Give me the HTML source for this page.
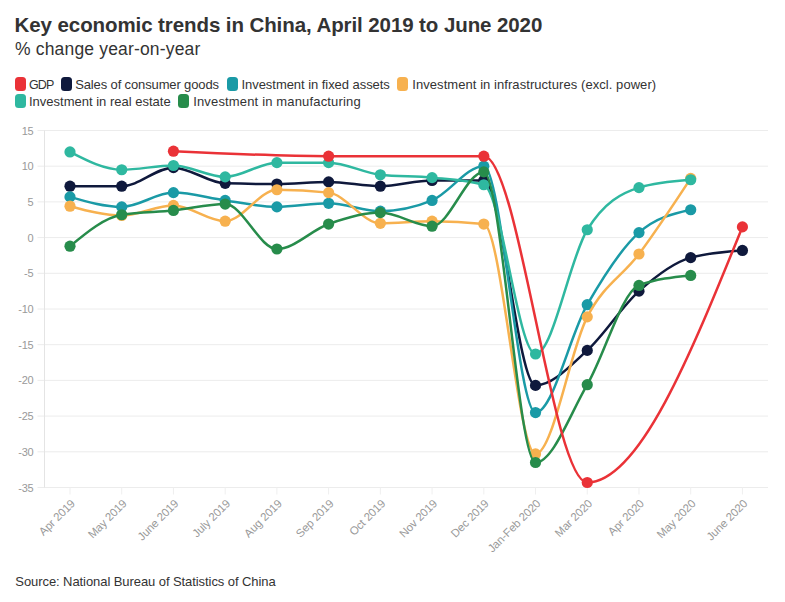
<!DOCTYPE html>
<html lang="en">
<head>
<meta charset="utf-8">
<title>Key economic trends in China</title>
<style>
html,body{margin:0;padding:0;background:#fff;}
body{width:785px;height:602px;position:relative;overflow:hidden;font-family:"Liberation Sans",sans-serif;color:#333;}
.abs{position:absolute;white-space:nowrap;line-height:1;}
h1{margin:0;font-weight:700;color:#333333;font-size:20.5px;left:14.6px;top:14.9px;letter-spacing:-0.09px;}
.sub{font-size:17.5px;left:15px;top:40.7px;letter-spacing:0.17px;color:#333333;}
.sw{position:absolute;width:10.6px;height:13.8px;border-radius:3.5px;}
.lt{position:absolute;white-space:nowrap;line-height:1;font-size:13px;color:#333333;}
.src{font-size:13px;left:15.3px;top:574.8px;letter-spacing:-0.075px;color:#333333;}
svg.chart{position:absolute;left:0;top:0;}
svg text{font-family:"Liberation Sans",sans-serif;}
.yl{font-size:11px;fill:#999999;letter-spacing:-0.3px;}
.xl{font-size:11.4px;fill:#999999;letter-spacing:-0.1px;}
</style>
</head>
<body>
<h1 class="abs">Key economic trends in China, April 2019 to June 2020</h1>
<div class="abs sub">% change year-on-year</div>
<div class="legend">
<span class="sw" style="left:15px;top:77.2px;background:#ea3237"></span>
<span class="lt" style="left:29.0px;top:78.9px;letter-spacing:-0.9px;font-size:12.5px">GDP</span>
<span class="sw" style="left:61px;top:77.2px;background:#0f193c"></span>
<span class="lt" style="left:75.2px;top:78px;letter-spacing:-0.13px;font-size:13px">Sales of consumer goods</span>
<span class="sw" style="left:227px;top:77.2px;background:#1a9aa6"></span>
<span class="lt" style="left:241.5px;top:78px;letter-spacing:-0.05px;font-size:13px">Investment in fixed assets</span>
<span class="sw" style="left:397px;top:77.2px;background:#f7b14f"></span>
<span class="lt" style="left:412.3px;top:78px;letter-spacing:0.06px;font-size:13px">Investment in infrastructures (excl. power)</span>
<span class="sw" style="left:15px;top:94.2px;background:#2fb8a0"></span>
<span class="lt" style="left:29.0px;top:94.8px;letter-spacing:0.0px;font-size:13px">Investment in real estate</span>
<span class="sw" style="left:178.3px;top:94.2px;background:#278c4b"></span>
<span class="lt" style="left:193.2px;top:94.8px;letter-spacing:0.16px;font-size:13px">Investment in manufacturing</span>
</div>
<svg class="chart" width="785" height="602" viewBox="0 0 785 602">
<line x1="37.5" x2="768.0" y1="130.50" y2="130.50" stroke="#ececec" stroke-width="1"/>
<text x="33.3" y="134.50" text-anchor="end" class="yl">15</text>
<line x1="37.5" x2="768.0" y1="166.20" y2="166.20" stroke="#ececec" stroke-width="1"/>
<text x="33.3" y="170.20" text-anchor="end" class="yl">10</text>
<line x1="37.5" x2="768.0" y1="201.90" y2="201.90" stroke="#ececec" stroke-width="1"/>
<text x="33.3" y="205.90" text-anchor="end" class="yl">5</text>
<line x1="37.5" x2="768.0" y1="237.60" y2="237.60" stroke="#ececec" stroke-width="1"/>
<text x="33.3" y="241.60" text-anchor="end" class="yl">0</text>
<line x1="37.5" x2="768.0" y1="273.30" y2="273.30" stroke="#ececec" stroke-width="1"/>
<text x="33.3" y="277.30" text-anchor="end" class="yl">-5</text>
<line x1="37.5" x2="768.0" y1="309.00" y2="309.00" stroke="#ececec" stroke-width="1"/>
<text x="33.3" y="313.00" text-anchor="end" class="yl">-10</text>
<line x1="37.5" x2="768.0" y1="344.70" y2="344.70" stroke="#ececec" stroke-width="1"/>
<text x="33.3" y="348.70" text-anchor="end" class="yl">-15</text>
<line x1="37.5" x2="768.0" y1="380.40" y2="380.40" stroke="#ececec" stroke-width="1"/>
<text x="33.3" y="384.40" text-anchor="end" class="yl">-20</text>
<line x1="37.5" x2="768.0" y1="416.10" y2="416.10" stroke="#ececec" stroke-width="1"/>
<text x="33.3" y="420.10" text-anchor="end" class="yl">-25</text>
<line x1="37.5" x2="768.0" y1="451.80" y2="451.80" stroke="#ececec" stroke-width="1"/>
<text x="33.3" y="455.80" text-anchor="end" class="yl">-30</text>
<line x1="37.5" x2="768.0" y1="487.50" y2="487.50" stroke="#ececec" stroke-width="1"/>
<text x="33.3" y="491.50" text-anchor="end" class="yl">-35</text>
<line x1="44.5" x2="44.5" y1="130.5" y2="487.5" stroke="#e4e4e4" stroke-width="1"/>
<line x1="70.00" x2="70.00" y1="487.5" y2="494.5" stroke="#efefef" stroke-width="1"/>
<text transform="translate(72.90,501.40) rotate(-45)" text-anchor="end" class="xl" dy="0.35em">Apr 2019</text>
<line x1="121.72" x2="121.72" y1="487.5" y2="494.5" stroke="#efefef" stroke-width="1"/>
<text transform="translate(124.62,501.40) rotate(-45)" text-anchor="end" class="xl" dy="0.35em">May 2019</text>
<line x1="173.45" x2="173.45" y1="487.5" y2="494.5" stroke="#efefef" stroke-width="1"/>
<text transform="translate(176.35,501.40) rotate(-45)" text-anchor="end" class="xl" dy="0.35em">June 2019</text>
<line x1="225.18" x2="225.18" y1="487.5" y2="494.5" stroke="#efefef" stroke-width="1"/>
<text transform="translate(228.08,501.40) rotate(-45)" text-anchor="end" class="xl" dy="0.35em">July 2019</text>
<line x1="276.90" x2="276.90" y1="487.5" y2="494.5" stroke="#efefef" stroke-width="1"/>
<text transform="translate(279.80,501.40) rotate(-45)" text-anchor="end" class="xl" dy="0.35em">Aug 2019</text>
<line x1="328.62" x2="328.62" y1="487.5" y2="494.5" stroke="#efefef" stroke-width="1"/>
<text transform="translate(331.52,501.40) rotate(-45)" text-anchor="end" class="xl" dy="0.35em">Sep 2019</text>
<line x1="380.35" x2="380.35" y1="487.5" y2="494.5" stroke="#efefef" stroke-width="1"/>
<text transform="translate(383.25,501.40) rotate(-45)" text-anchor="end" class="xl" dy="0.35em">Oct 2019</text>
<line x1="432.07" x2="432.07" y1="487.5" y2="494.5" stroke="#efefef" stroke-width="1"/>
<text transform="translate(434.97,501.40) rotate(-45)" text-anchor="end" class="xl" dy="0.35em">Nov 2019</text>
<line x1="483.80" x2="483.80" y1="487.5" y2="494.5" stroke="#efefef" stroke-width="1"/>
<text transform="translate(486.70,501.40) rotate(-45)" text-anchor="end" class="xl" dy="0.35em">Dec 2019</text>
<line x1="535.53" x2="535.53" y1="487.5" y2="494.5" stroke="#efefef" stroke-width="1"/>
<text transform="translate(538.43,501.40) rotate(-45)" text-anchor="end" class="xl" dy="0.35em">Jan-Feb 2020</text>
<line x1="587.25" x2="587.25" y1="487.5" y2="494.5" stroke="#efefef" stroke-width="1"/>
<text transform="translate(590.15,501.40) rotate(-45)" text-anchor="end" class="xl" dy="0.35em">Mar 2020</text>
<line x1="638.98" x2="638.98" y1="487.5" y2="494.5" stroke="#efefef" stroke-width="1"/>
<text transform="translate(641.88,501.40) rotate(-45)" text-anchor="end" class="xl" dy="0.35em">Apr 2020</text>
<line x1="690.70" x2="690.70" y1="487.5" y2="494.5" stroke="#efefef" stroke-width="1"/>
<text transform="translate(693.60,501.40) rotate(-45)" text-anchor="end" class="xl" dy="0.35em">May 2020</text>
<line x1="742.43" x2="742.43" y1="487.5" y2="494.5" stroke="#efefef" stroke-width="1"/>
<text transform="translate(745.33,501.40) rotate(-45)" text-anchor="end" class="xl" dy="0.35em">June 2020</text>
<g><path d="M70,186.19C87.24,186.19,104.48,186.19,121.72,186.19C138.97,186.19,156.21,167.63,173.45,167.63C190.69,167.63,207.93,182.86,225.18,183.34C242.42,183.81,259.66,184.05,276.9,184.05C294.14,184.05,311.38,181.91,328.62,181.91C345.87,181.91,363.11,186.19,380.35,186.19C397.59,186.19,414.83,180.48,432.07,180.48C449.32,180.48,466.56,180.48,483.8,180.48C501.04,180.48,518.28,385.4,535.53,385.4C552.77,385.4,570.01,366.12,587.25,350.41C604.49,334.7,621.73,306.62,638.98,291.15C656.22,275.68,673.46,262.35,690.7,257.59C707.94,252.83,725.18,251.64,742.43,250.45" fill="none" stroke="#0f193c" stroke-width="2.5" stroke-linecap="round" stroke-linejoin="round"/>
<circle cx="70.00" cy="186.19" r="5.6" fill="#0f193c"/>
<circle cx="121.72" cy="186.19" r="5.6" fill="#0f193c"/>
<circle cx="173.45" cy="167.63" r="5.6" fill="#0f193c"/>
<circle cx="225.18" cy="183.34" r="5.6" fill="#0f193c"/>
<circle cx="276.90" cy="184.05" r="5.6" fill="#0f193c"/>
<circle cx="328.62" cy="181.91" r="5.6" fill="#0f193c"/>
<circle cx="380.35" cy="186.19" r="5.6" fill="#0f193c"/>
<circle cx="432.07" cy="180.48" r="5.6" fill="#0f193c"/>
<circle cx="483.80" cy="180.48" r="5.6" fill="#0f193c"/>
<circle cx="535.53" cy="385.40" r="5.6" fill="#0f193c"/>
<circle cx="587.25" cy="350.41" r="5.6" fill="#0f193c"/>
<circle cx="638.98" cy="291.15" r="5.6" fill="#0f193c"/>
<circle cx="690.70" cy="257.59" r="5.6" fill="#0f193c"/>
<circle cx="742.43" cy="250.45" r="5.6" fill="#0f193c"/>
</g>
<g><path d="M70,196.9C87.24,201.9,104.48,206.9,121.72,206.9C138.97,206.9,156.21,192.62,173.45,192.62C190.69,192.62,207.93,198.09,225.18,200.47C242.42,202.85,259.66,206.9,276.9,206.9C294.14,206.9,311.38,203.33,328.62,203.33C345.87,203.33,363.11,211.18,380.35,211.18C397.59,211.18,414.83,207.61,432.07,200.47C449.32,193.33,466.56,166.2,483.8,166.2C501.04,166.2,518.28,412.53,535.53,412.53C552.77,412.53,570.01,334.7,587.25,304.72C604.49,274.73,621.73,247.83,638.98,232.6C656.22,217.37,673.46,213.56,690.7,209.75" fill="none" stroke="#1a9aa6" stroke-width="2.5" stroke-linecap="round" stroke-linejoin="round"/>
<circle cx="70.00" cy="196.90" r="5.6" fill="#1a9aa6"/>
<circle cx="121.72" cy="206.90" r="5.6" fill="#1a9aa6"/>
<circle cx="173.45" cy="192.62" r="5.6" fill="#1a9aa6"/>
<circle cx="225.18" cy="200.47" r="5.6" fill="#1a9aa6"/>
<circle cx="276.90" cy="206.90" r="5.6" fill="#1a9aa6"/>
<circle cx="328.62" cy="203.33" r="5.6" fill="#1a9aa6"/>
<circle cx="380.35" cy="211.18" r="5.6" fill="#1a9aa6"/>
<circle cx="432.07" cy="200.47" r="5.6" fill="#1a9aa6"/>
<circle cx="483.80" cy="166.20" r="5.6" fill="#1a9aa6"/>
<circle cx="535.53" cy="412.53" r="5.6" fill="#1a9aa6"/>
<circle cx="587.25" cy="304.72" r="5.6" fill="#1a9aa6"/>
<circle cx="638.98" cy="232.60" r="5.6" fill="#1a9aa6"/>
<circle cx="690.70" cy="209.75" r="5.6" fill="#1a9aa6"/>
</g>
<g><path d="M70,206.18C87.24,210.82,104.48,215.47,121.72,215.47C138.97,215.47,156.21,205.47,173.45,205.47C190.69,205.47,207.93,221.18,225.18,221.18C242.42,221.18,259.66,189.76,276.9,189.76C294.14,189.76,311.38,190.71,328.62,192.62C345.87,194.52,363.11,223.32,380.35,223.32C397.59,223.32,414.83,221.18,432.07,221.18C449.32,221.18,466.56,222.13,483.8,224.03C501.04,225.94,518.28,453.94,535.53,453.94C552.77,453.94,570.01,350.17,587.25,316.85C604.49,283.53,621.73,277.11,638.98,254.02C656.22,230.94,673.46,204.64,690.7,178.34" fill="none" stroke="#f7b14f" stroke-width="2.5" stroke-linecap="round" stroke-linejoin="round"/>
<circle cx="70.00" cy="206.18" r="5.6" fill="#f7b14f"/>
<circle cx="121.72" cy="215.47" r="5.6" fill="#f7b14f"/>
<circle cx="173.45" cy="205.47" r="5.6" fill="#f7b14f"/>
<circle cx="225.18" cy="221.18" r="5.6" fill="#f7b14f"/>
<circle cx="276.90" cy="189.76" r="5.6" fill="#f7b14f"/>
<circle cx="328.62" cy="192.62" r="5.6" fill="#f7b14f"/>
<circle cx="380.35" cy="223.32" r="5.6" fill="#f7b14f"/>
<circle cx="432.07" cy="221.18" r="5.6" fill="#f7b14f"/>
<circle cx="483.80" cy="224.03" r="5.6" fill="#f7b14f"/>
<circle cx="535.53" cy="453.94" r="5.6" fill="#f7b14f"/>
<circle cx="587.25" cy="316.85" r="5.6" fill="#f7b14f"/>
<circle cx="638.98" cy="254.02" r="5.6" fill="#f7b14f"/>
<circle cx="690.70" cy="178.34" r="5.6" fill="#f7b14f"/>
</g>
<g><path d="M70,151.92C87.24,160.85,104.48,169.77,121.72,169.77C138.97,169.77,156.21,165.49,173.45,165.49C190.69,165.49,207.93,176.91,225.18,176.91C242.42,176.91,259.66,162.63,276.9,162.63C294.14,162.63,311.38,162.63,328.62,162.63C345.87,162.63,363.11,172.86,380.35,174.77C397.59,176.67,414.83,175.96,432.07,177.62C449.32,179.29,466.56,180,483.8,184.76C501.04,189.52,518.28,353.98,535.53,353.98C552.77,353.98,570.01,257.47,587.25,229.75C604.49,202.02,621.73,192.86,638.98,187.62C656.22,182.38,673.46,181.08,690.7,179.77" fill="none" stroke="#2fb8a0" stroke-width="2.5" stroke-linecap="round" stroke-linejoin="round"/>
<circle cx="70.00" cy="151.92" r="5.6" fill="#2fb8a0"/>
<circle cx="121.72" cy="169.77" r="5.6" fill="#2fb8a0"/>
<circle cx="173.45" cy="165.49" r="5.6" fill="#2fb8a0"/>
<circle cx="225.18" cy="176.91" r="5.6" fill="#2fb8a0"/>
<circle cx="276.90" cy="162.63" r="5.6" fill="#2fb8a0"/>
<circle cx="328.62" cy="162.63" r="5.6" fill="#2fb8a0"/>
<circle cx="380.35" cy="174.77" r="5.6" fill="#2fb8a0"/>
<circle cx="432.07" cy="177.62" r="5.6" fill="#2fb8a0"/>
<circle cx="483.80" cy="184.76" r="5.6" fill="#2fb8a0"/>
<circle cx="535.53" cy="353.98" r="5.6" fill="#2fb8a0"/>
<circle cx="587.25" cy="229.75" r="5.6" fill="#2fb8a0"/>
<circle cx="638.98" cy="187.62" r="5.6" fill="#2fb8a0"/>
<circle cx="690.70" cy="179.77" r="5.6" fill="#2fb8a0"/>
</g>
<g><path d="M70,246.17C87.24,231.89,104.48,217.61,121.72,214.75C138.97,211.9,156.21,212.25,173.45,210.47C190.69,208.68,207.93,204.04,225.18,204.04C242.42,204.04,259.66,249.02,276.9,249.02C294.14,249.02,311.38,230.1,328.62,224.03C345.87,217.97,363.11,212.61,380.35,212.61C397.59,212.61,414.83,226.18,432.07,226.18C449.32,226.18,466.56,171.91,483.8,171.91C501.04,171.91,518.28,462.51,535.53,462.51C552.77,462.51,570.01,414.2,587.25,384.68C604.49,355.17,621.73,292.1,638.98,285.44C656.22,278.77,673.46,277.11,690.7,275.44" fill="none" stroke="#278c4b" stroke-width="2.5" stroke-linecap="round" stroke-linejoin="round"/>
<circle cx="70.00" cy="246.17" r="5.6" fill="#278c4b"/>
<circle cx="121.72" cy="214.75" r="5.6" fill="#278c4b"/>
<circle cx="173.45" cy="210.47" r="5.6" fill="#278c4b"/>
<circle cx="225.18" cy="204.04" r="5.6" fill="#278c4b"/>
<circle cx="276.90" cy="249.02" r="5.6" fill="#278c4b"/>
<circle cx="328.62" cy="224.03" r="5.6" fill="#278c4b"/>
<circle cx="380.35" cy="212.61" r="5.6" fill="#278c4b"/>
<circle cx="432.07" cy="226.18" r="5.6" fill="#278c4b"/>
<circle cx="483.80" cy="171.91" r="5.6" fill="#278c4b"/>
<circle cx="535.53" cy="462.51" r="5.6" fill="#278c4b"/>
<circle cx="587.25" cy="384.68" r="5.6" fill="#278c4b"/>
<circle cx="638.98" cy="285.44" r="5.6" fill="#278c4b"/>
<circle cx="690.70" cy="275.44" r="5.6" fill="#278c4b"/>
</g>
<g><path d="M173.45,151.21C225.17,153.71,276.9,156.2,328.62,156.2C380.35,156.2,432.07,156.2,483.8,156.2C518.28,156.2,552.77,482.5,587.25,482.5C638.98,482.5,690.7,354.7,742.43,226.89" fill="none" stroke="#ea3237" stroke-width="2.5" stroke-linecap="round" stroke-linejoin="round"/>
<circle cx="173.45" cy="151.21" r="5.6" fill="#ea3237"/>
<circle cx="328.62" cy="156.20" r="5.6" fill="#ea3237"/>
<circle cx="483.80" cy="156.20" r="5.6" fill="#ea3237"/>
<circle cx="587.25" cy="482.50" r="5.6" fill="#ea3237"/>
<circle cx="742.43" cy="226.89" r="5.6" fill="#ea3237"/>
</g>
</svg>
<div class="abs src">Source: National Bureau of Statistics of China</div>
</body>
</html>
